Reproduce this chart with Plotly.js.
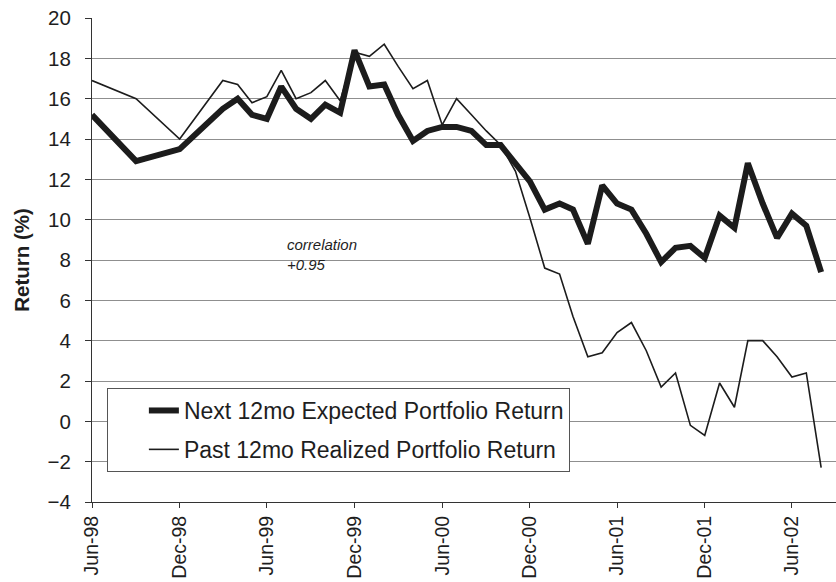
<!DOCTYPE html>
<html>
<head>
<meta charset="utf-8">
<script src="https://cdn.plot.ly/plotly-3.0.1.min.js"></script>
<style>html,body{margin:0;padding:0;background:#fff;}#chart{width:836px;height:582px;}</style>
</head>
<body>
<div id="chart"></div>
<script>
const dates = ['1998-06-01','1998-09-01','1998-12-01','1999-03-01','1999-04-01','1999-05-01','1999-06-01','1999-07-01','1999-08-01','1999-09-01','1999-10-01','1999-11-01','1999-12-01','2000-01-01','2000-02-01','2000-03-01','2000-04-01','2000-05-01','2000-06-01','2000-07-01','2000-08-01','2000-09-01','2000-10-01','2000-11-01','2000-12-01','2001-01-01','2001-02-01','2001-03-01','2001-04-01','2001-05-01','2001-06-01','2001-07-01','2001-08-01','2001-09-01','2001-10-01','2001-11-01','2001-12-01','2002-01-01','2002-02-01','2002-03-01','2002-04-01','2002-05-01','2002-06-01','2002-07-01','2002-08-01'];

const expectedReturn = [15.2,12.9,13.5,15.5,16.0,15.2,15.0,16.6,15.5,15.0,15.7,15.3,18.4,16.6,16.7,15.2,13.9,14.4,14.6,14.6,14.4,13.7,13.7,12.8,11.9,10.5,10.8,10.5,8.8,11.7,10.8,10.5,9.3,7.9,8.6,8.7,8.1,10.2,9.6,12.8,10.8,9.1,10.3,9.7,7.4];

const realizedReturn = [16.9,16.0,14.0,16.9,16.7,15.8,16.1,17.4,16.0,16.3,16.9,15.9,18.3,18.1,18.7,17.6,16.5,16.9,14.7,16.0,15.2,14.4,13.7,12.4,10.1,7.6,7.3,5.2,3.2,3.4,4.4,4.9,3.5,1.7,2.4,-0.2,-0.7,1.9,0.7,4.0,4.0,3.2,2.2,2.4,-2.3];

const tickDates = ['1998-06-01','1998-12-01','1999-06-01','1999-12-01','2000-06-01','2000-12-01','2001-06-01','2001-12-01','2002-06-01'];
const tickLabels = ['Jun-98','Dec-98','Jun-99','Dec-99','Jun-00','Dec-00','Jun-01','Dec-01','Jun-02'];
const yTicks = [-4,-2,0,2,4,6,8,10,12,14,16,18,20];

const seriesNames = ['Next 12mo Expected Portfolio Return','Past 12mo Realized Portfolio Return'];

const traces = [
  {x: dates, y: expectedReturn, name: seriesNames[0], type: 'scatter', mode: 'lines',
   legendgroup: 'a', line: {color: '#1c1c1c', width: 6}},
  {x: dates, y: realizedReturn, name: seriesNames[1], type: 'scatter', mode: 'lines',
   legendgroup: 'b', line: {color: '#1c1c1c', width: 1.6}}
];

const font = 'Liberation Sans, Arial, Helvetica, sans-serif';

const layout = {
  width: 836, height: 582,
  margin: {l: 92, r: 0, t: 18, b: 80},
  paper_bgcolor: '#ffffff', plot_bgcolor: '#ffffff',
  font: {family: font, color: '#1e1e1e'},
  showlegend: true,
  legend: {
    x: 0.02, y: 0.2355, xanchor: 'left', yanchor: 'top',
    bgcolor: '#ffffff', bordercolor: '#555555', borderwidth: 1,
    font: {family: font, size: 23, color: '#1e1e1e'},
    traceorder: 'grouped', tracegroupgap: 6,
    indentation: 36,
    entrywidth: 410, entrywidthmode: 'pixels'
  },
  xaxis: {
    type: 'date',
    range: ['1998-06-01', '2002-09-01'],
    tickmode: 'array', tickvals: tickDates, ticktext: tickLabels,
    tickangle: -90,
    tickfont: {family: font, size: 19.5, color: '#1e1e1e'},
    ticks: 'outside', ticklen: 5, tickcolor: '#333',
    showline: true, linecolor: '#333', linewidth: 1,
    showgrid: false, zeroline: false
  },
  yaxis: {
    range: [-4, 20],
    tickmode: 'array', tickvals: yTicks,
    tickfont: {family: font, size: 20.5, color: '#1e1e1e'},
    ticks: 'outside', ticklen: 6, tickcolor: '#333',
    ticklabelstandoff: 10,
    showline: true, linecolor: '#333', linewidth: 1,
    showgrid: true, gridcolor: '#8f8f8f', gridwidth: 1,
    zeroline: false,
    title: {text: '<b>Return (%)</b>', font: {family: font, size: 20.5, color: '#1e1e1e'}, standoff: 12}
  },
  annotations: [
    {xref: 'paper', yref: 'paper', x: 0.26, y: 0.512, xanchor: 'left', yanchor: 'middle',
     text: '<i>correlation<br>+0.95</i>', align: 'left', showarrow: false,
     font: {family: font, size: 15, color: '#1e1e1e'}}
  ]
};

Plotly.newPlot('chart', traces, layout, {displayModeBar: false, staticPlot: true});
</script>
</body>
</html>
